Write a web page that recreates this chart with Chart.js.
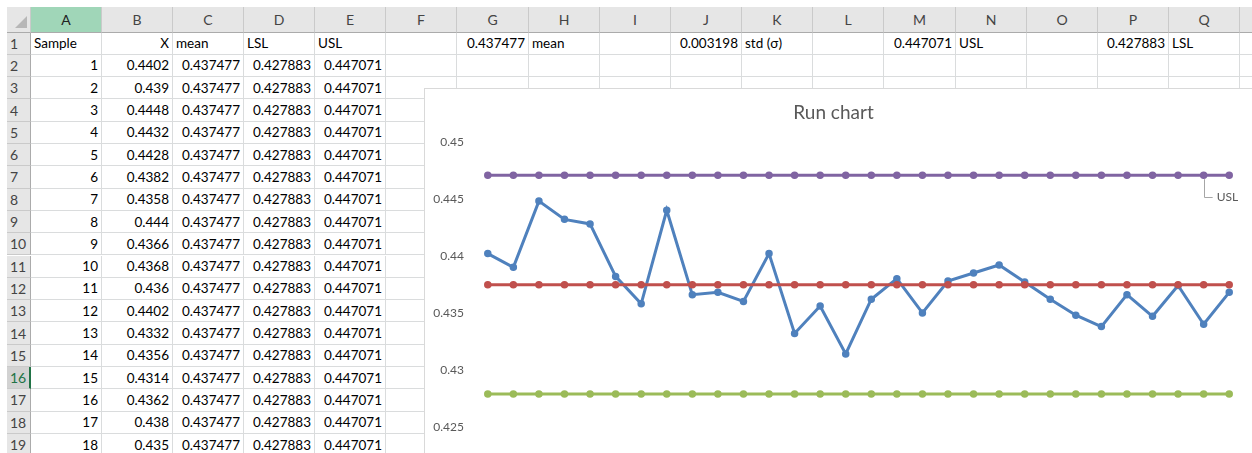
<!DOCTYPE html>
<html>
<head>
<meta charset="utf-8">
<title>Run chart</title>
<script src="https://cdn.jsdelivr.net/npm/chart.js@4.4.1/dist/chart.umd.min.js"></script>
<style>
  html, body { margin: 0; padding: 0; background: #fff; }
  body { width: 1252px; height: 453px; overflow: hidden; position: relative; font-family: Lato, "Open Sans", sans-serif; }
  .cell { position: absolute; box-sizing: border-box; border-right: 1px solid #DADCDD; border-bottom: 1px solid #DADCDD;
          font-size: 13.5px; color: #000; white-space: nowrap; overflow: visible; padding: 0 3px; display: flex; align-items: center; }
  .num { justify-content: flex-end; }
  .hdr { background: #E6E6E6; color: #444; border-right: 1px solid #CACACA; border-bottom: 1px solid #ABABAB; justify-content: center; font-size: 14px; }
  .rowhdr { background: #E6E6E6; color: #444; border-right: 1px solid #ABABAB; border-bottom: 1px solid #CACACA; font-size: 14px; }
  .colsel { background: #A0D6B8; color: #222; }
  .rowsel { background: #D2D2D2; color: #217346; border-right: 2px solid #217346; }
  .corner-tri { position: absolute; width: 0; height: 0; border-left: 12px solid transparent; border-bottom: 12px solid #B7B7B7; }
  #chartBox { position: absolute; left: 424px; top: 88px; width: 840px; height: 420px; background: #fff; border: 1px solid #D9D9D9; z-index: 5; }
</style>
</head>
<body>
<div id="sheet"></div>
<div id="chartBox"><canvas id="runChart" width="840" height="420"></canvas></div>
<script>
// ---- data ----
const samples = [1, 2, 3, 4, 5, 6, 7, 8, 9, 10, 11, 12, 13, 14, 15, 16, 17, 18, 19, 20, 21, 22, 23, 24, 25, 26, 27, 28, 29, 30]
const xValues = [0.4402, 0.439, 0.4448, 0.4432, 0.4428, 0.4382, 0.4358, 0.444, 0.4366, 0.4368,
                 0.436, 0.4402, 0.4332, 0.4356, 0.4314, 0.4362, 0.438, 0.435, 0.4378, 0.4385,
                 0.4392, 0.4377, 0.4362, 0.4348, 0.4338, 0.4366, 0.4347, 0.4374, 0.434, 0.4368]
const MEAN = 0.437477
const STD = 0.003198
const USL = 0.447071
const LSL = 0.427883
const yTicks = [0.42, 0.425, 0.43, 0.435, 0.44, 0.445, 0.45]
const USL_LABEL_INDEX = 28

// ---- spreadsheet backdrop ----
const colX = [7, 31, 102, 173, 244, 315, 386, 457, 529, 600, 671, 742, 813, 884, 956, 1027, 1098, 1169, 1240, 1311]
const colNames = 'ABCDEFGHIJKLMNOPQR'.split('')
const HDR_TOP = 7, HDR_BOTTOM = 32.5, ROW_H = 22.3
const sheet = document.getElementById('sheet')

function addCell(left, top, width, height, text, cls) {
    const d = document.createElement('div')
    d.className = 'cell ' + (cls || '')
    d.style.left = left + 'px'
    d.style.top = top + 'px'
    d.style.width = width + 'px'
    d.style.height = height + 'px'
    if (text !== undefined && text !== null) d.textContent = text
    sheet.appendChild(d)
    return d
}

// cell contents, keyed by row then column letter
const cells = {1: {A: 'Sample', B: 'X', C: 'mean', D: 'LSL', E: 'USL', G: MEAN, H: 'mean', J: STD, K: 'std (σ)', M: USL, N: 'USL', P: LSL, Q: 'LSL'}}
for (let i = 0; i < 18; i++) {
    cells[i + 2] = {A: samples[i], B: xValues[i], C: MEAN, D: LSL, E: USL}
}
// the "X" header is right aligned in the sheet
const rightAligned = {'1B': true}

// corner
addCell(colX[0], HDR_TOP, colX[1] - colX[0], HDR_BOTTOM - HDR_TOP, null, 'hdr')
const tri = document.createElement('div')
tri.className = 'corner-tri'
tri.style.left = '15px'; tri.style.top = '16px'
sheet.appendChild(tri)

// column headers
colNames.forEach((n, c) => {
    addCell(colX[c + 1], HDR_TOP, colX[c + 2] - colX[c + 1], HDR_BOTTOM - HDR_TOP, n, 'hdr' + (n === 'A' ? ' colsel' : ''))
})

// rows
for (let r = 1; r <= 20; r++) {
    const top = HDR_BOTTOM + (r - 1) * ROW_H
    addCell(colX[0], top, colX[1] - colX[0], ROW_H, r, 'rowhdr' + (r === 16 ? ' rowsel' : ''))
    colNames.forEach((n, c) => {
        const v = cells[r] ? cells[r][n] : undefined
        const right = typeof v === 'number' || rightAligned[r + n]
        addCell(colX[c + 1], top, colX[c + 2] - colX[c + 1], ROW_H, v === undefined ? null : String(v), right ? 'num' : '')
    })
}

// ---- chart ----
Chart.defaults.font.family = 'Lato, "Open Sans", sans-serif'

function series(label, values, color, order) {
    return {
        label: label,
        data: values,
        borderColor: color,
        backgroundColor: color,
        borderWidth: 3,
        pointRadius: 3,
        pointBorderWidth: 1.5,
        pointBackgroundColor: color,
        pointBorderColor: color,
        tension: 0,
        order: order
    }
}

// leader line + label on the USL series, like Excel's data label
const uslLabel = {
    id: 'uslLabel',
    afterDatasetsDraw(chart) {
        const pt = chart.getDatasetMeta(3).data[USL_LABEL_INDEX]
        if (!pt) return
        const c = chart.ctx
        c.save()
        c.strokeStyle = '#A6A6A6'
        c.lineWidth = 1
        c.beginPath()
        c.moveTo(Math.round(pt.x) + 0.5, pt.y + 4)
        c.lineTo(Math.round(pt.x) + 0.5, Math.round(pt.y + 22) + 0.5)
        c.lineTo(pt.x + 9, Math.round(pt.y + 22) + 0.5)
        c.stroke()
        c.fillStyle = '#595959'
        c.font = '12px Lato, "Open Sans", sans-serif'
        c.textBaseline = 'middle'
        c.textAlign = 'left'
        c.fillText('USL', pt.x + 13, pt.y + 22)
        c.restore()
    }
}

new Chart(document.getElementById('runChart'), {
    type: 'line',
    data: {
        labels: samples,
        datasets: [
            series('X', xValues, '#4F81BD', 4),
            series('mean', samples.map(() => MEAN), '#C0504D', 3),
            series('LSL', samples.map(() => LSL), '#9BBB59', 2),
            series('USL', samples.map(() => USL), '#8064A2', 1)
        ]
    },
    options: {
        responsive: false,
        devicePixelRatio: 1,
        animation: false,
        layout: {padding: {left: 0, right: 23, top: 0, bottom: 25}},
        plugins: {
            legend: {display: false},
            tooltip: {enabled: false},
            title: {display: true, text: 'Run chart', color: '#595959', font: {size: 19, weight: 'normal'}, padding: {top: 12, bottom: 18}}
        },
        scales: {
            x: {type: 'category', offset: true, display: false},
            y: {
                min: yTicks[0],
                max: yTicks[yTicks.length - 1],
                afterBuildTicks: s => { s.ticks = yTicks.map(v => ({value: v})) },
                afterFit: s => { s.width = 50 },
                grid: {display: false, drawTicks: false},
                border: {display: false},
                ticks: {color: '#595959', font: {size: 12}, padding: 11, callback: v => String(+Number(v).toFixed(3))}
            }
        }
    },
    plugins: [uslLabel]
})
</script>
</body>
</html>
